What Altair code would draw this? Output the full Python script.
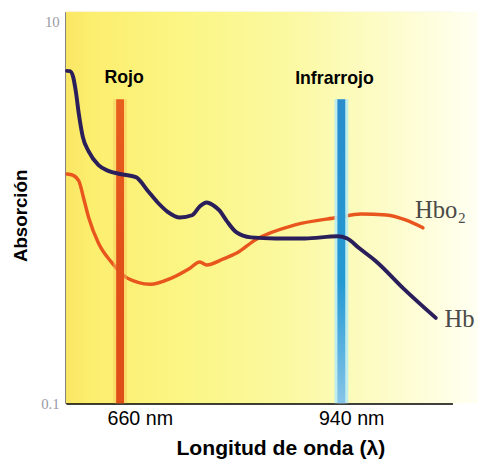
import altair as alt
import pandas as pd

# Hb (deoxyhemoglobin) curve: wavelength (nm), absorption
hb_nm = [592.8, 596.5, 600.5, 604.0, 607.8, 612.8, 620.2, 632.7, 645.1, 660.0, 680.0,
         694.9, 707.3, 719.8, 735.9, 750.9, 760.8, 769.5, 778.2, 785.7, 794.4, 806.9,
         825.5, 856.7, 894.0, 935.0, 947.5, 962.4, 984.8, 1018.4, 1059.5]
hb_abs = [5.52, 5.50, 5.15, 4.30, 3.28, 2.49, 2.09, 1.77, 1.65, 1.59, 1.53,
          1.30, 1.13, 1.01, 0.94, 0.966, 1.074, 1.127, 1.087, 1.024, 0.909, 0.788,
          0.74, 0.73, 0.73, 0.75, 0.73, 0.65, 0.55, 0.40, 0.28]

# HbO2 (oxyhemoglobin) curve
hbo2_nm = [592.8, 600.0, 607.8, 614.0, 620.2, 632.7, 648.8, 666.3, 682.4, 698.6, 723.5,
           748.4, 760.8, 769.6, 790.7, 806.9, 831.8, 881.5, 935.0, 964.9, 997.3,
           1022.2, 1043.3]
hbo2_abs = [1.59, 1.57, 1.46, 1.18, 0.94, 0.69, 0.55, 0.46, 0.43, 0.42, 0.45,
            0.51, 0.55, 0.53, 0.57, 0.61, 0.72, 0.86, 0.94, 0.98, 0.97,
            0.91, 0.83]

# LED wavelength bars
bar_nm = [660, 940]
bar_top = [3.92, 3.92]
bar_bottom = [0.1, 0.1]

# annotations
label_text = ["Rojo", "Infrarrojo"]
label_nm = [665.0, 931.3]
label_abs = [4.79, 4.73]
curve_text = ["Hbo\u2082", "Hb"]
curve_nm = [1033.3, 1070.7]
curve_abs = [0.931, 0.252]

# axis extents
x_domain = [591.56, 1080.6]
y_domain = [0.1, 11.26]
x_ticks = [660, 940]
y_ticks = [0.1, 10]
bg_x = [591.56, 1113.0]
bg_y = [0.1, 11.26]

W, H = 393, 398

x_axis = alt.Axis(
    values=x_ticks, labelExpr="datum.value + ' nm'", ticks=False, grid=False,
    domainColor="black", domainWidth=2, labelFont="Liberation Sans", labelFontSize=20,
    labelColor="black", labelPadding=22, labelBaseline="alphabetic", labelFlush=False,
    labelOffset={"condition": {"test": "datum.value == 660", "value": 20}, "value": 10},
    title="Longitud de onda (\u03bb)", titleFont="Liberation Sans", titleFontSize=21.5,
    titleFontWeight="bold", titleColor="black", titleX=218, titleY=52,
    titleBaseline="alphabetic", titleAlign="center",
)
y_axis = alt.Axis(
    values=y_ticks, labelExpr="datum.value == 10 ? '10' : '0.1'", ticks=False, grid=False,
    domainColor="black", domainWidth=2, labelFont="Liberation Serif", labelFontSize=15,
    labelColor="#9a9aa6", labelPadding=7, labelFlush=False,
    title="Absorción", titleFont="Liberation Sans", titleFontSize=19,
    titleFontWeight="bold", titleColor="black", titleX=-46, titleY=207,
    titleAngle=270, titleAlign="center", titleBaseline="middle",
)

def X(field="nm"):
    return alt.X(f"{field}:Q",
                 scale=alt.Scale(domain=x_domain, nice=False, zero=False, padding=0),
                 axis=x_axis)

def Y(field="abs"):
    return alt.Y(f"{field}:Q",
                 scale=alt.Scale(type="log", domain=y_domain, nice=False, padding=0),
                 axis=y_axis)

bg_df = pd.DataFrame({"nm": [bg_x[0]], "nm2": [bg_x[1]], "abs": [bg_y[0]], "abs2": [bg_y[1]]})
bg_grad = alt.LinearGradient(
    gradient="linear", x1=0, y1=0, x2=1, y2=0,
    stops=[
        alt.GradientStop(offset=0.0, color="#fae664"),
        alt.GradientStop(offset=0.06, color="#fcee6e"),
        alt.GradientStop(offset=0.3, color="#fbf686"),
        alt.GradientStop(offset=0.55, color="#fbf9a2"),
        alt.GradientStop(offset=0.78, color="#fdfcca"),
        alt.GradientStop(offset=1.0, color="#fffff2"),
    ],
)
bg = alt.Chart(bg_df).mark_rect(color=bg_grad).encode(
    x=X(), x2="nm2:Q", y=Y(), y2="abs2:Q"
)

hb_df = pd.DataFrame({"nm": hb_nm, "abs": hb_abs})
hbo2_df = pd.DataFrame({"nm": hbo2_nm, "abs": hbo2_abs})

hb_line = alt.Chart(hb_df).mark_line(
    color="#2a1f5a", strokeWidth=4, interpolate="monotone", strokeCap="round"
).encode(x=X(), y=Y())
hbo2_line = alt.Chart(hbo2_df).mark_line(
    color="#e8561e", strokeWidth=3.5, interpolate="monotone", strokeCap="round"
).encode(x=X(), y=Y())

bars_df = pd.DataFrame({"nm": bar_nm, "abs": bar_top, "abs2": bar_bottom, "led": ["red", "ir"]})
red_grad = alt.LinearGradient(
    gradient="linear", x1=0, y1=0, x2=0, y2=1,
    stops=[alt.GradientStop(offset=0, color="#e8601e"),
           alt.GradientStop(offset=0.5, color="#e2501a"),
           alt.GradientStop(offset=1, color="#e04e18")],
)
blue_grad = alt.LinearGradient(
    gradient="linear", x1=0, y1=0, x2=0, y2=1,
    stops=[alt.GradientStop(offset=0, color="#2a8ccc"),
           alt.GradientStop(offset=0.6, color="#2399d2"),
           alt.GradientStop(offset=1, color="#86c4e8")],
)
halo_red = alt.Chart(bars_df[bars_df.led == "red"]).mark_bar(
    width=14, color="#f6c060", opacity=0.45
).encode(x=X(), y=Y(), y2="abs2:Q")
halo_blue = alt.Chart(bars_df[bars_df.led == "ir"]).mark_bar(
    width=14, color="#b8ecf2", opacity=0.9
).encode(x=X(), y=Y(), y2="abs2:Q")
red_bar = alt.Chart(bars_df[bars_df.led == "red"]).mark_bar(
    width=8, color=red_grad
).encode(x=X(), y=Y(), y2="abs2:Q")
blue_bar = alt.Chart(bars_df[bars_df.led == "ir"]).mark_bar(
    width=8, color=blue_grad
).encode(x=X(), y=Y(), y2="abs2:Q")

lab_df = pd.DataFrame({"nm": label_nm, "abs": label_abs, "t": label_text})
labels = alt.Chart(lab_df).mark_text(
    font="Liberation Sans", fontSize=18, fontWeight="bold", color="black",
    align="center", baseline="alphabetic"
).encode(x=X(), y=Y(), text="t:N")

cl_df = pd.DataFrame({"nm": curve_nm, "abs": curve_abs, "t": curve_text})
curve_labels = alt.Chart(cl_df).mark_text(
    font="Liberation Serif", fontSize=25, color="#4a4a4a",
    align="left", baseline="alphabetic"
).encode(x=X(), y=Y(), text="t:N")

chart = alt.layer(
    bg, hbo2_line, halo_red, halo_blue, red_bar, blue_bar, hb_line, labels, curve_labels
).properties(
    width=W, height=H,
    padding={"left": 59, "top": 0, "right": 26, "bottom": 58},
    autosize=alt.AutoSizeParams(type="none"),
).configure_view(stroke=None).configure(background="white")

chart.save("out.html", embed_options={"renderer": "svg", "actions": False})
